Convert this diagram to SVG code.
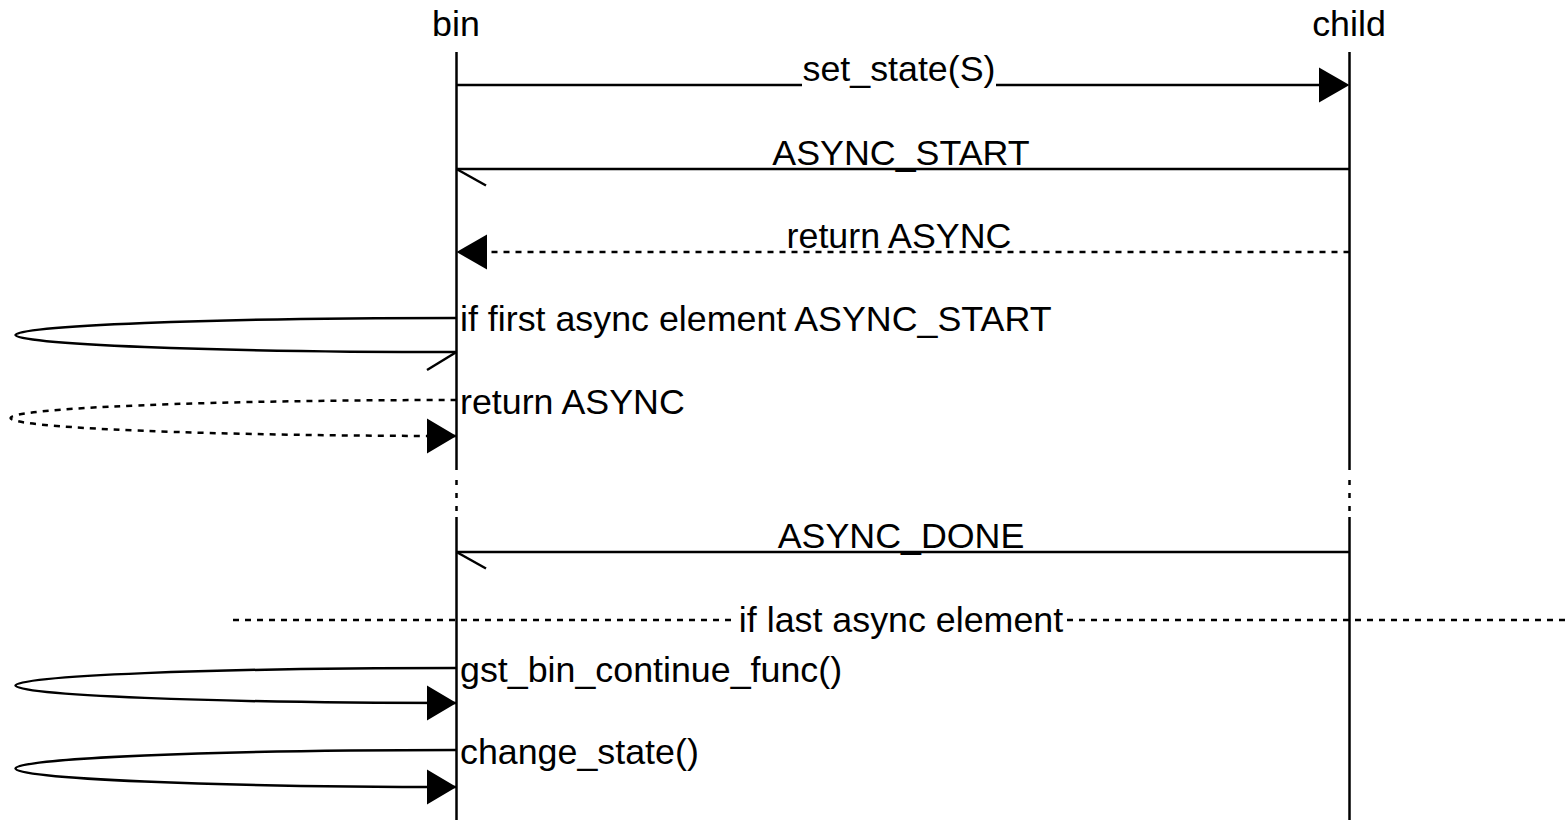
<svg xmlns="http://www.w3.org/2000/svg" width="1565" height="820" viewBox="0 0 1565 820">
<style>
text{font-family:"Liberation Sans",Arial,sans-serif;font-size:35.8px;fill:#000}
.c{text-anchor:middle}
.ln{stroke:#000;stroke-width:2.5;fill:none}
.d{stroke-dasharray:6,6}
.ah{fill:#000;stroke:none}
</style>
<rect width="1565" height="820" fill="#fff"/>
<g id="bin">
<text class="c" x="456" y="36">bin</text>
<line class="ln" x1="456.5" y1="52" x2="456.5" y2="470"/>
<line class="ln" x1="456.5" y1="480" x2="456.5" y2="512" stroke-dasharray="5,8"/>
<line class="ln" x1="456.5" y1="517" x2="456.5" y2="820"/>
</g>
<g id="child">
<text class="c" x="1349" y="36">child</text>
<line class="ln" x1="1349.5" y1="52" x2="1349.5" y2="470"/>
<line class="ln" x1="1349.5" y1="480" x2="1349.5" y2="512" stroke-dasharray="5,8"/>
<line class="ln" x1="1349.5" y1="517" x2="1349.5" y2="820"/>
</g>
<g id="connectors">
<line class="ln" x1="456.5" y1="85" x2="1330" y2="85"/>
<polygon class="ah" points="1349.5,85 1319,67.5 1319,102.5"/>
<rect x="802" y="58" width="194" height="29" fill="#fff"/>
<text class="c" x="899" y="81">set_state(S)</text>

<line class="ln" x1="1349.5" y1="169" x2="456.5" y2="169"/>
<line class="ln" x1="456.5" y1="169" x2="486" y2="185.5"/>
<text class="c" x="901" y="165">ASYNC_START</text>

<line class="ln d" x1="1349.5" y1="252" x2="480" y2="252"/>
<polygon class="ah" points="456.5,252 487,234.5 487,269.5"/>
<text class="c" x="899" y="248">return ASYNC</text>

<path class="ln" d="M456.5,318 A441,17 0 0,0 456.5,352"/>
<line class="ln" x1="456.5" y1="352" x2="427" y2="370"/>
<text x="460" y="331">if first async element ASYNC_START</text>

<path class="ln d" d="M456.5,400 A446,18 0 0,0 456.5,436"/>
<polygon class="ah" points="456.5,436 427,418.5 427,453.5"/>
<text x="460" y="414">return ASYNC</text>

<line class="ln" x1="1349.5" y1="552" x2="456.5" y2="552"/>
<line class="ln" x1="456.5" y1="552" x2="486" y2="568.5"/>
<text class="c" x="901" y="548">ASYNC_DONE</text>

<line class="ln d" x1="233" y1="620" x2="734" y2="620"/>
<line class="ln d" x1="1067" y1="620" x2="1565" y2="620"/>
<text class="c" x="901" y="632">if last async element</text>

<path class="ln" d="M456.5,668 A441,17.5 0 0,0 456.5,703"/>
<polygon class="ah" points="456.5,703 427,685.5 427,720.5"/>
<text x="460" y="682">gst_bin_continue_func()</text>

<path class="ln" d="M456.5,750 A441,18.5 0 0,0 456.5,787"/>
<polygon class="ah" points="456.5,787 427,769.5 427,804.5"/>
<text x="460" y="764">change_state()</text>
</g>
</svg>
